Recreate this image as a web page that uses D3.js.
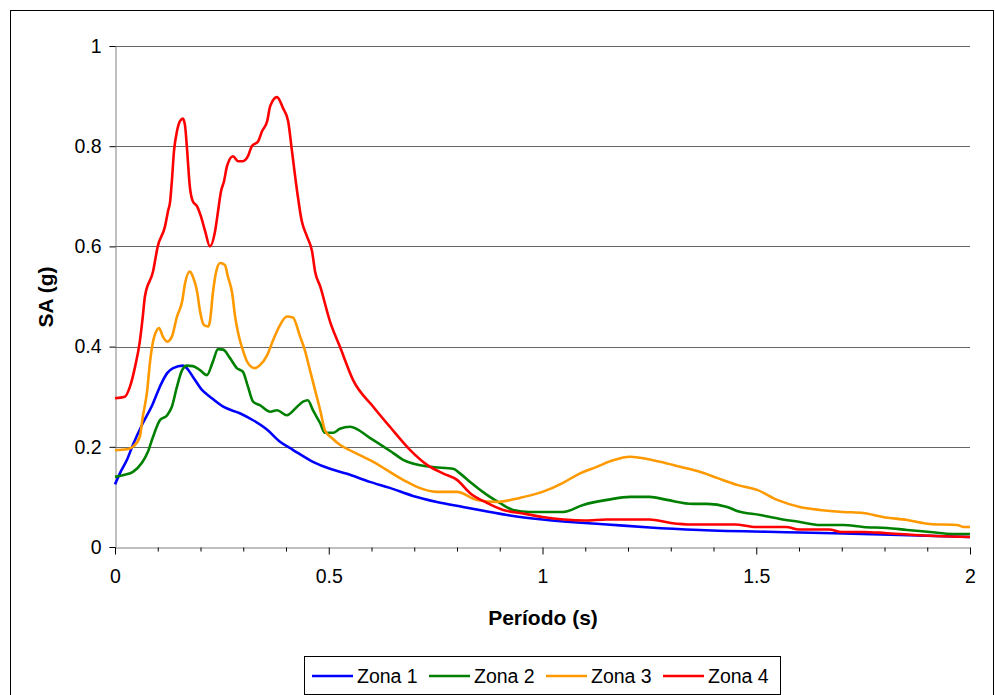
<!DOCTYPE html>
<html>
<head>
<meta charset="utf-8">
<script src="https://cdn.jsdelivr.net/npm/d3@7"></script>
<style>
  body { margin: 0; background: #fff; }
  text { font-family: "Liberation Sans", Arial, sans-serif; }
</style>
</head>
<body>
<svg class="chart" width="995" height="695"></svg>
<script>
// period (s), SA (g) pairs
var zona1 = [
  [0, 0.125], [0.012, 0.148], [0.028, 0.174], [0.042, 0.204], [0.065, 0.247],
  [0.087, 0.283], [0.105, 0.32], [0.122, 0.347], [0.136, 0.357], [0.159, 0.362],
  [0.168, 0.357], [0.182, 0.34], [0.204, 0.313], [0.222, 0.3], [0.253, 0.28],
  [0.292, 0.267], [0.323, 0.253], [0.356, 0.234], [0.386, 0.21], [0.416, 0.194],
  [0.463, 0.17], [0.503, 0.156], [0.543, 0.146], [0.596, 0.13], [0.643, 0.118],
  [0.697, 0.102], [0.753, 0.09], [0.814, 0.08], [0.877, 0.07], [0.924, 0.063],
  [1.0, 0.055], [1.081, 0.049], [1.151, 0.045], [1.251, 0.039], [1.368, 0.034],
  [1.602, 0.029], [1.836, 0.024], [2.0, 0.02]
];

var zona2 = [
  [0, 0.14], [0.023, 0.144], [0.042, 0.15], [0.063, 0.168], [0.077, 0.19],
  [0.089, 0.22], [0.105, 0.253], [0.122, 0.263], [0.133, 0.28], [0.145, 0.32],
  [0.157, 0.353], [0.168, 0.362], [0.182, 0.361], [0.199, 0.353], [0.215, 0.343],
  [0.229, 0.37], [0.241, 0.395], [0.253, 0.394], [0.269, 0.377], [0.285, 0.357],
  [0.299, 0.35], [0.311, 0.32], [0.323, 0.29], [0.339, 0.283], [0.363, 0.27],
  [0.379, 0.273], [0.402, 0.263], [0.426, 0.28], [0.44, 0.29], [0.451, 0.293],
  [0.463, 0.273], [0.48, 0.247], [0.491, 0.228], [0.51, 0.228], [0.526, 0.236],
  [0.55, 0.24], [0.596, 0.218], [0.65, 0.188], [0.674, 0.174], [0.737, 0.16],
  [0.791, 0.156], [0.807, 0.147], [0.83, 0.13], [0.87, 0.104], [0.9, 0.088],
  [0.931, 0.074], [0.971, 0.07], [1.048, 0.07], [1.095, 0.084], [1.151, 0.094],
  [1.205, 0.1], [1.251, 0.1], [1.291, 0.094], [1.352, 0.086], [1.385, 0.086],
  [1.432, 0.08], [1.455, 0.072], [1.509, 0.064], [1.556, 0.056], [1.602, 0.05],
  [1.649, 0.044], [1.703, 0.044], [1.75, 0.04], [1.806, 0.038], [1.853, 0.034],
  [1.906, 0.03], [1.96, 0.026], [2.0, 0.026]
];

var zona3 = [
  [0, 0.193], [0.028, 0.195], [0.042, 0.2], [0.058, 0.22], [0.065, 0.26],
  [0.075, 0.31], [0.082, 0.37], [0.089, 0.41], [0.098, 0.433], [0.103, 0.437],
  [0.112, 0.42], [0.122, 0.41], [0.133, 0.42], [0.145, 0.46], [0.157, 0.49],
  [0.164, 0.527], [0.175, 0.55], [0.182, 0.54], [0.192, 0.51], [0.199, 0.47],
  [0.208, 0.443], [0.218, 0.44], [0.222, 0.45], [0.229, 0.507], [0.236, 0.547],
  [0.246, 0.567], [0.257, 0.563], [0.264, 0.54], [0.274, 0.507], [0.281, 0.46],
  [0.288, 0.427], [0.299, 0.393], [0.311, 0.367], [0.327, 0.357], [0.339, 0.363],
  [0.356, 0.383], [0.37, 0.413], [0.386, 0.443], [0.402, 0.46], [0.416, 0.458],
  [0.433, 0.42], [0.444, 0.393], [0.456, 0.353], [0.468, 0.313], [0.48, 0.273],
  [0.491, 0.233], [0.508, 0.217], [0.526, 0.204], [0.557, 0.19], [0.604, 0.17],
  [0.674, 0.134], [0.706, 0.12], [0.753, 0.11], [0.8, 0.11], [0.847, 0.094],
  [0.894, 0.09], [0.947, 0.098], [1.0, 0.11], [1.048, 0.128], [1.081, 0.144],
  [1.127, 0.16], [1.165, 0.173], [1.205, 0.18], [1.228, 0.178], [1.275, 0.17],
  [1.322, 0.16], [1.368, 0.15], [1.408, 0.138], [1.455, 0.124], [1.502, 0.114],
  [1.549, 0.094], [1.602, 0.08], [1.649, 0.074], [1.703, 0.07], [1.75, 0.068],
  [1.796, 0.06], [1.853, 0.054], [1.906, 0.046], [1.97, 0.044], [1.984, 0.04],
  [2.0, 0.04]
];

var zona4 = [
  [0, 0.297], [0.023, 0.3], [0.035, 0.32], [0.047, 0.36], [0.058, 0.41],
  [0.065, 0.46], [0.07, 0.5], [0.089, 0.55], [0.1, 0.6], [0.117, 0.64],
  [0.124, 0.67], [0.129, 0.69], [0.133, 0.73], [0.138, 0.79], [0.145, 0.83],
  [0.152, 0.85], [0.159, 0.855], [0.164, 0.84], [0.168, 0.8], [0.175, 0.72],
  [0.182, 0.69], [0.192, 0.68], [0.201, 0.66], [0.211, 0.63], [0.222, 0.6],
  [0.234, 0.63], [0.241, 0.67], [0.248, 0.71], [0.255, 0.73], [0.262, 0.76],
  [0.276, 0.78], [0.288, 0.77], [0.299, 0.77], [0.311, 0.78], [0.32, 0.8],
  [0.335, 0.81], [0.344, 0.83], [0.356, 0.85], [0.363, 0.88], [0.379, 0.898],
  [0.393, 0.876], [0.405, 0.85], [0.414, 0.79], [0.426, 0.71], [0.437, 0.65],
  [0.449, 0.62], [0.461, 0.59], [0.468, 0.55], [0.48, 0.52], [0.503, 0.45],
  [0.526, 0.4], [0.557, 0.333], [0.604, 0.28], [0.643, 0.24], [0.69, 0.194],
  [0.73, 0.164], [0.767, 0.147], [0.8, 0.134], [0.83, 0.108], [0.87, 0.088],
  [0.908, 0.074], [0.954, 0.067], [1.0, 0.06], [1.05, 0.055], [1.1, 0.053],
  [1.15, 0.055], [1.25, 0.055], [1.3, 0.048], [1.35, 0.045], [1.45, 0.045],
  [1.5, 0.04], [1.57, 0.04], [1.6, 0.035], [1.67, 0.035], [1.7, 0.03],
  [1.75, 0.03], [1.8, 0.028], [1.87, 0.024], [1.92, 0.022], [2.0, 0.02]
];

var seriesNames = ['Zona 1', 'Zona 2', 'Zona 3', 'Zona 4'];
var seriesColors = ['#0000ff', '#008000', '#ff9900', '#ff0000'];
var xTickValues = [0, 0.5, 1, 1.5, 2];
var yTickValues = [0, 0.2, 0.4, 0.6, 0.8, 1];

var series = [zona1, zona2, zona3, zona4].map(function(values, i) {
  return { name: seriesNames[i], color: seriesColors[i], values: values };
});

// plot box (the name "top" is taken by window.top)
var plotLeft = 115, plotRight = 970, plotTop = 46, plotBottom = 547;

var x = d3.scaleLinear()
  .domain([0, 2])
  .range([plotLeft, plotRight]);

var y = d3.scaleLinear()
  .domain([0, 1])
  .range([plotBottom, plotTop]);

var svg = d3.select('svg.chart');

// outer chart border
svg.append('rect')
  .attr('x', 10.5)
  .attr('y', 10.5)
  .attr('width', 983)
  .attr('height', 700)
  .attr('fill', 'none')
  .attr('stroke', '#000')
  .attr('stroke-width', 1);

// horizontal gridlines
svg.append('g')
  .attr('class', 'grid')
  .selectAll('line')
  .data(yTickValues.slice(1))
    .enter()
      .append('line')
        .attr('x1', plotLeft)
        .attr('x2', plotRight)
        .attr('y1', function(d) { return Math.round(y(d)) + 0.5; })
        .attr('y2', function(d) { return Math.round(y(d)) + 0.5; })
        .attr('stroke', '#666')
        .attr('stroke-width', 1);

// y axis
var yAxis = svg.append('g')
  .attr('transform', 'translate(' + (plotLeft + 0.5) + ',0)')
  .call(d3.axisLeft(y)
    .tickValues(yTickValues)
    .tickSize(6)
    .tickPadding(8)
    .tickFormat(function(d) { return d === 0 || d === 1 ? d3.format('d')(d) : d3.format('.1f')(d); }));

// x axis, minor ticks every 0.1, labels every 0.5
var xAxis = svg.append('g')
  .attr('transform', 'translate(0,' + (plotBottom + 0.5) + ')')
  .call(d3.axisBottom(x)
    .tickValues(d3.range(0, 21).map(function(i) { return i / 10; }))
    .tickSize(5)
    .tickPadding(17)
    .tickFormat(function(d) {
      var hit = xTickValues.filter(function(t) { return Math.abs(t - d) < 1e-9; });
      return hit.length ? d3.format('')(hit[0]) : '';
    }));

[yAxis, xAxis].forEach(function(ax) {
  ax.select('.domain').attr('stroke', '#808080');
  ax.selectAll('.tick line').attr('stroke', '#000');
  ax.selectAll('text')
    .attr('font-size', 19.5)
    .attr('fill', '#000')
    .attr('font-family', '"Liberation Sans", Arial, sans-serif');
});

xAxis.selectAll('.tick line')
  .attr('y2', function(d) {
    return xTickValues.some(function(t) { return Math.abs(t - d) < 1e-9; }) ? 7 : 4;
  });

// axis titles
svg.append('text')
  .attr('x', 543)
  .attr('y', 625)
  .attr('text-anchor', 'middle')
  .attr('font-size', 21)
  .attr('font-weight', 'bold')
  .text('Período (s)');

svg.append('text')
  .attr('transform', 'translate(53,297) rotate(-90)')
  .attr('text-anchor', 'middle')
  .attr('font-size', 21)
  .attr('font-weight', 'bold')
  .text('SA (g)');

// lines
var line = d3.line()
  .x(function(d) { return x(d[0]); })
  .y(function(d) { return y(d[1]); })
  .curve(d3.curveMonotoneX);

svg.append('g')
  .attr('class', 'lines')
  .selectAll('path')
  .data(series)
    .enter()
      .append('path')
        .attr('d', function(d) { return line(d.values); })
        .attr('fill', 'none')
        .attr('stroke', function(d) { return d.color; })
        .attr('stroke-width', 2.6)
        .attr('stroke-linejoin', 'round');

// legend
var legend = svg.append('g').attr('class', 'legend');

legend.append('rect')
  .attr('x', 304.5)
  .attr('y', 656.5)
  .attr('width', 476)
  .attr('height', 38)
  .attr('fill', '#fff')
  .attr('stroke', '#000');

var legendX = [312, 429, 546, 663];

var items = legend.selectAll('g.item')
  .data(series)
    .enter()
      .append('g')
        .attr('class', 'item')
        .attr('transform', function(d, i) { return 'translate(' + legendX[i] + ',676)'; });

items.append('line')
  .attr('x1', 0)
  .attr('x2', 41)
  .attr('stroke', function(d) { return d.color; })
  .attr('stroke-width', 2.6);

items.append('text')
  .attr('x', 45)
  .attr('y', 6.5)
  .attr('font-size', 19.5)
  .text(function(d) { return d.name; });
</script>
</body>
</html>
